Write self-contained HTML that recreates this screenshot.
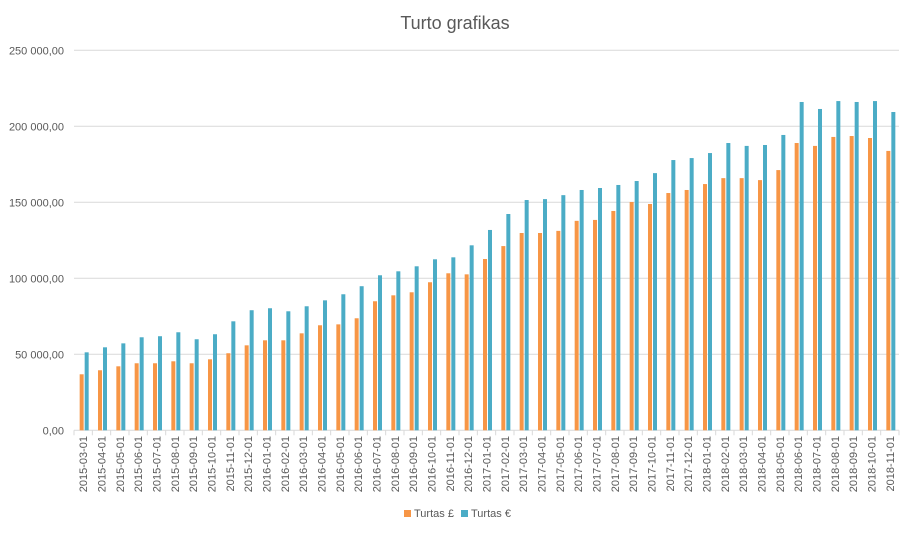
<!DOCTYPE html>
<html><head><meta charset="utf-8"><style>
body{margin:0;background:#fff;}
svg{display:block;font-family:"Liberation Sans",sans-serif;}
</style></head><body>
<svg id="chart" width="910" height="533" viewBox="0 0 910 533">
<rect width="910" height="533" fill="#fff"/>
<text x="455" y="29" text-anchor="middle" font-size="18" fill="#595959">Turto grafikas</text>
<g id="grid"></g><g id="bars"></g><g id="xlabels"></g>
<g>
<rect x="404" y="510" width="7" height="7" fill="#f79646"/>
<text x="414" y="517" font-size="11" fill="#595959">Turtas £</text>
<rect x="461" y="510" width="7" height="7" fill="#4bacc6"/>
<text x="471" y="517" font-size="11" fill="#595959">Turtas €</text>
</g>
</svg>
<script>
const categories=["2015-03-01","2015-04-01","2015-05-01","2015-06-01","2015-07-01","2015-08-01","2015-09-01","2015-10-01","2015-11-01","2015-12-01","2016-01-01","2016-02-01","2016-03-01","2016-04-01","2016-05-01","2016-06-01","2016-07-01","2016-08-01","2016-09-01","2016-10-01","2016-11-01","2016-12-01","2017-01-01","2017-02-01","2017-03-01","2017-04-01","2017-05-01","2017-06-01","2017-07-01","2017-08-01","2017-09-01","2017-10-01","2017-11-01","2017-12-01","2018-01-01","2018-02-01","2018-03-01","2018-04-01","2018-05-01","2018-06-01","2018-07-01","2018-08-01","2018-09-01","2018-10-01","2018-11-01"];
const gbpValues=[36850,39500,42100,44100,44100,45400,44100,46700,50700,55900,59200,59200,63800,69100,69700,73700,84900,88800,90800,97400,103300,102600,112700,121200,129800,129800,131200,137800,138400,144300,150200,148900,156100,158100,162000,165900,165900,164600,171200,189000,187100,193000,193600,192300,183800];
const eurValues=[51300,54600,57200,61200,61900,64500,59900,63200,71700,79000,80300,78300,81600,85500,89500,94800,102000,104600,107900,112500,113800,121700,131800,142300,151500,152100,154700,158100,159400,161400,164000,169200,177800,179100,182400,189000,187100,187700,194300,216000,211400,216600,216000,216600,209400];
const yTicks=[0,50000,100000,150000,200000,250000];
const yTickLabels=["0,00","50 000,00","100 000,00","150 000,00","200 000,00","250 000,00"];
const NS="http://www.w3.org/2000/svg";
const X0=74,X1=899,Y0=430.3,YTOP=50.3,YMAX=250000;
const bw=(X1-X0)/categories.length;
function yScale(v){return Y0-(v/YMAX)*(Y0-YTOP);}
function xCenter(i){return X0+bw*(i+0.5);}
function mk(tag,attrs,parent){const e=document.createElementNS(NS,tag);for(const k in attrs)e.setAttribute(k,attrs[k]);parent.appendChild(e);return e;}
const grid=document.getElementById('grid'),bars=document.getElementById('bars'),xl=document.getElementById('xlabels');
yTicks.forEach((t,i)=>{
 const y=yScale(t);
 const l=mk('line',{x1:X0,x2:X1,y1:y,y2:y,stroke:'#d9d9d9','stroke-width':1},grid);
 
 
 const tx=mk('text',{x:64,y:y+4,'text-anchor':'end','font-size':11,fill:'#595959'},grid);
 tx.textContent=yTickLabels[i];
 
 
});
for(let i=0;i<=categories.length;i++){
 const x=X0+bw*i;
 const t=mk('line',{x1:x,x2:x,y1:Y0,y2:Y0+5,stroke:'#d9d9d9'},grid);
 
 
}
categories.forEach((c,i)=>{
 const cx=xCenter(i);
 const b1=mk('rect',{x:cx-3.5,y:yScale(gbpValues[i]),width:4,height:Y0-yScale(gbpValues[i]),fill:'#f79646'},bars);
 
 
 const b2=mk('rect',{x:cx+1.5,y:yScale(eurValues[i]),width:4,height:Y0-yScale(eurValues[i]),fill:'#4bacc6'},bars);
 
 
 const t=mk('text',{x:0,y:0,'text-anchor':'end','font-size':11,fill:'#595959',transform:`translate(${cx+4},436) rotate(-90)`},xl);
 t.textContent=c;
 
 
});
</script>
</body></html>
